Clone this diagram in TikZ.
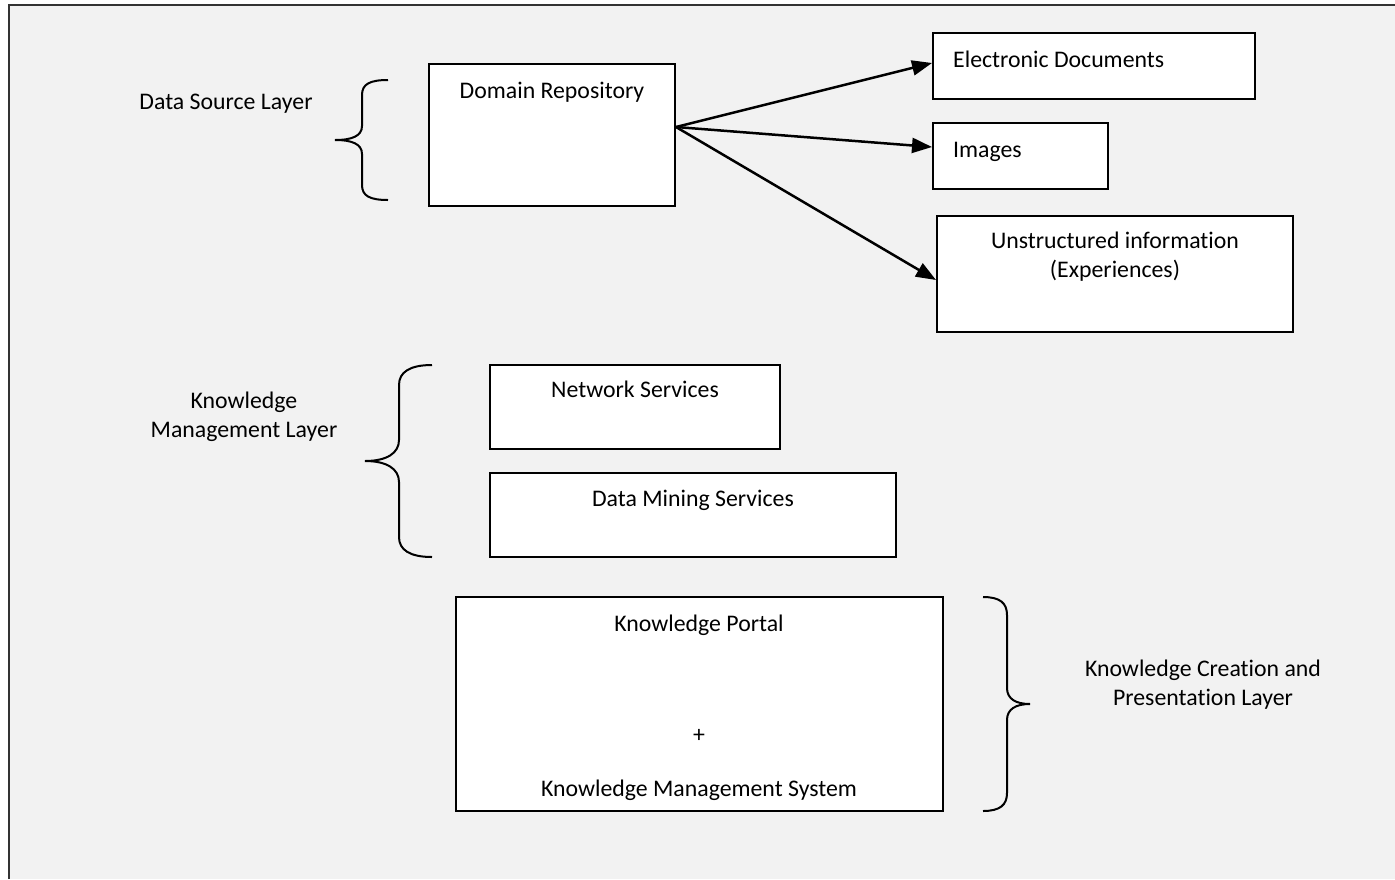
\documentclass[tikz,border=0pt]{standalone}
\usepackage{fontspec}
\setmainfont{Carlito}[Ligatures={NoCommon}]
\usepackage{xcolor}
\usepackage{tikz}
\usetikzlibrary{positioning,arrows.meta}

\definecolor{pagegrey}{HTML}{F2F2F2}

\tikzset{
    box/.style={draw, line width=2pt, fill=white, inner sep=0pt},
    lbl/.style={font=\fontsize{23.8}{29}\selectfont, inner sep=0pt, anchor=base},
    mlbl/.style={font=\fontsize{23.8}{29}\selectfont, inner sep=0pt, align=center},
    feed/.style={line width=2.5pt, -{Triangle[length=20pt,width=15pt]}},
    brace/.style={line width=2pt}
}

\begin{document}
\begin{tikzpicture}[x=1pt, y=-1pt]
    \useasboundingbox (0,0) rectangle (1395,879);

    % Page
    \fill[pagegrey] (9,5) rectangle (1395,879);
    \draw[line width=2pt, black!80] (9,879) -- (9,5) -- (1395,5);

    % Data source layer
    \node[box, minimum width=246pt, minimum height=142pt] (dr) at (552,135) {};
    \node[lbl] (drt) at (552,98) {Domain Repository};
    \node[lbl] (dsl) at (226,109) {Data Source Layer};
    \draw[brace] (388,80) .. controls (370,80) and (362,84) .. (362,95)
        -- (362,126) .. controls (362,136) and (352,140) .. (335,140)
        .. controls (352,140) and (362,144) .. (362,154)
        -- (362,185) .. controls (362,196) and (370,200) .. (388,200);

    \node[box, minimum width=322pt, minimum height=66pt] (ed) at (1094,66) {};
    \node[lbl, anchor=base west] (edt) at (953,67) {Electronic Documents};
    \node[box, minimum width=175pt, minimum height=66pt] (img) at (1020.5,156) {};
    \node[lbl, anchor=base west] (imt) at (953,157) {Images};
    \node[box, minimum width=356pt, minimum height=116pt] (us) at (1115,274) {};
    \node[mlbl] (ust) at (1115,257) {Unstructured information\\(Experiences)};

    \coordinate (src) at ([yshift=8pt]dr.east);
    \draw[feed] (src) -- ([yshift=3pt]ed.west);
    \draw[feed] (src) -- ([yshift=9pt]img.west);
    \draw[feed] (src) -- ([yshift=-6pt]us.west);

    % Knowledge management layer
    \node[mlbl] (kml) at (244,417) {Knowledge\\Management Layer};
    \draw[brace] (432,365) .. controls (410,365) and (399,372) .. (399,385)
        -- (399,440) .. controls (399,453) and (387,461) .. (365,461)
        .. controls (387,461) and (399,469) .. (399,482)
        -- (399,537) .. controls (399,550) and (410,557) .. (432,557);
    \node[box, minimum width=290pt, minimum height=84pt] (ns) at (635,407) {};
    \node[lbl] (nst) at (635,397) {Network Services};
    \node[box, minimum width=406pt, minimum height=84pt] (dm) at (693,515) {};
    \node[lbl] (dmt) at (693,506) {Data Mining Services};

    % Knowledge creation and presentation layer
    \node[box, minimum width=487pt, minimum height=214pt] (kp) at (699.5,704) {};
    \node[lbl] (kpt) at (699,631) {Knowledge Portal};
    \node[lbl] (plus) at (699,742) {+};
    \node[lbl] (kms) at (699,796) {Knowledge Management System};
    \draw[brace] (983,597) .. controls (1000,597) and (1007,603) .. (1007,615)
        -- (1007,688) .. controls (1007,699) and (1016,704) .. (1030,704)
        .. controls (1016,704) and (1007,709) .. (1007,720)
        -- (1007,793) .. controls (1007,805) and (1000,811) .. (983,811);
    \node[mlbl] (kcp) at (1203,685) {Knowledge Creation and\\Presentation Layer};
\end{tikzpicture}
\end{document}
